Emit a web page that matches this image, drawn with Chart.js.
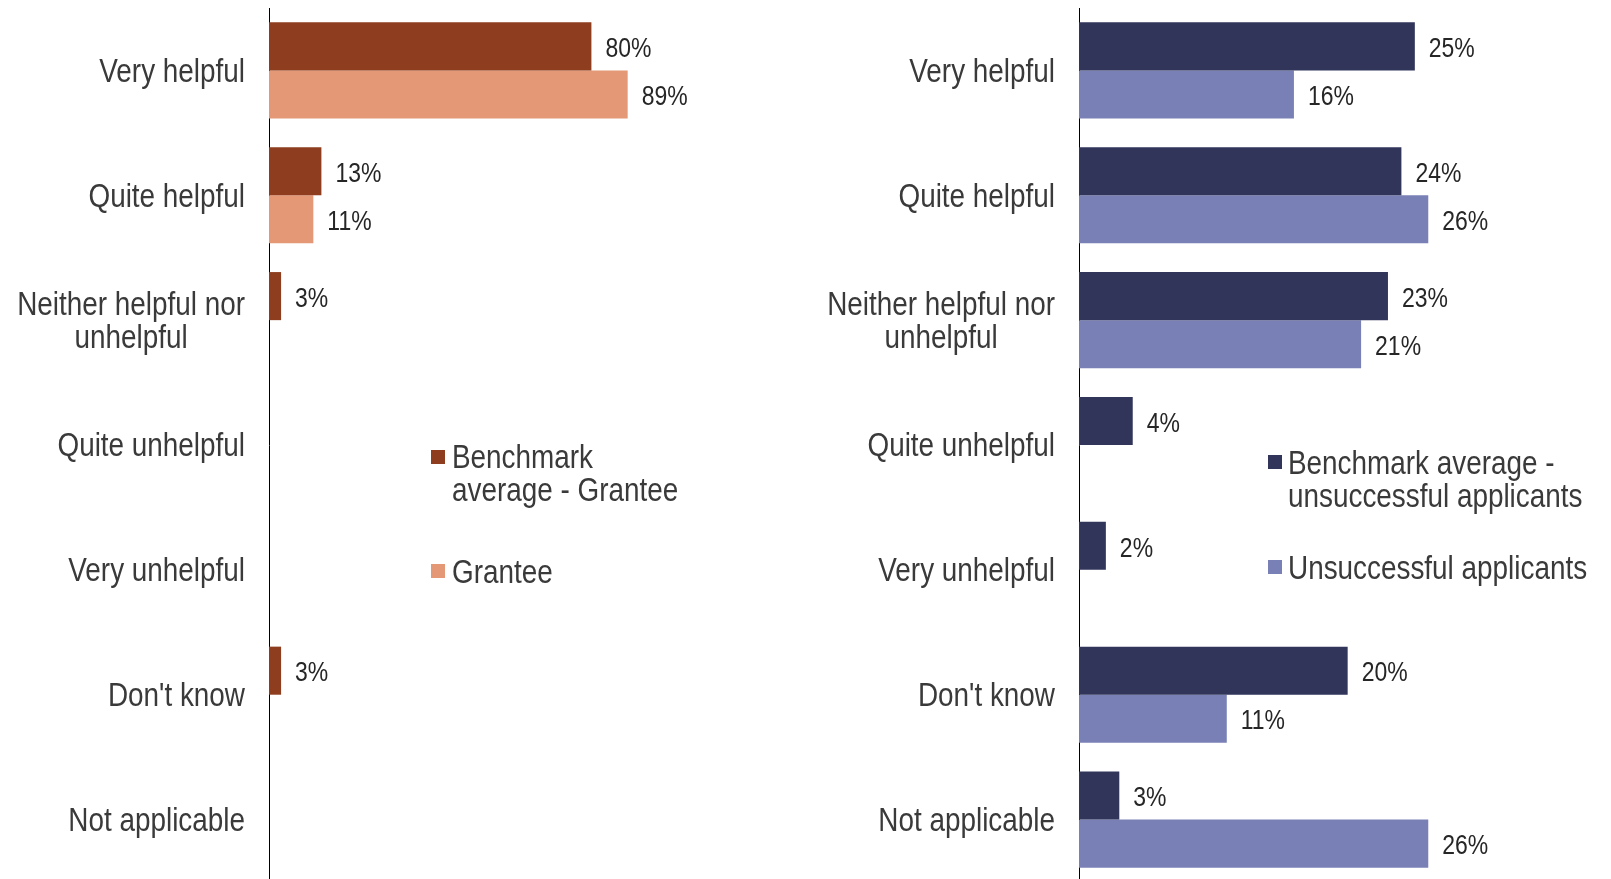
<!DOCTYPE html>
<html>
<head>
<meta charset="utf-8">
<title>Helpfulness</title>
<script src="https://cdn.jsdelivr.net/npm/chart.js@4.4.1/dist/chart.umd.min.js"></script>
<style>
  html, body { margin: 0; padding: 0; background: #fff; overflow: hidden; width: 1611px; height: 879px; }
  .wrap { position: absolute; top: 0; height: 884px; }
  #leftWrap { left: 0; width: 800px; }
  #rightWrap { left: 800px; width: 811px; }
  .leg { position: absolute; font-family: "Liberation Sans", Arial, sans-serif;
         font-size: 34px; line-height: 33px; color: #3a3a3a; white-space: nowrap;
         transform: scaleX(0.82); transform-origin: 0 0; }
  .sw { position: absolute; width: 14px; height: 14px; }
</style>
</head>
<body>
<div class="wrap" id="leftWrap"><canvas id="leftChart"></canvas></div>
<div class="wrap" id="rightWrap"><canvas id="rightChart"></canvas></div>

<!-- legends -->
<div class="sw" style="left:431px;top:450px;background:#8E3D1E"></div>
<div class="leg" style="left:452px;top:440px">Benchmark<br>average - Grantee</div>
<div class="sw" style="left:431px;top:564px;background:#E49876"></div>
<div class="leg" style="left:452px;top:555px">Grantee</div>

<div class="sw" style="left:1268px;top:455px;background:#31355A"></div>
<div class="leg" style="left:1288px;top:446px">Benchmark average -<br>unsuccessful applicants</div>
<div class="sw" style="left:1268px;top:560px;background:#7880B5"></div>
<div class="leg" style="left:1288px;top:551px">Unsuccessful applicants</div>

<script>
// ======================
// Data
// ======================
const categories = [
  "Very helpful",
  "Quite helpful",
  ["Neither helpful nor", "unhelpful"],
  "Quite unhelpful",
  "Very unhelpful",
  "Don't know",
  "Not applicable",
];

// left panel (grantees)
const benchmarkGrantee = [80, 13, 3, null, null, 3, null];
const grantee = [89, 11, null, null, null, null, null];

// right panel (unsuccessful applicants)
const benchmarkUnsuccessful = [25, 24, 23, 4, 2, 20, 3];
const unsuccessful = [16, 26, 21, null, null, 11, 26];

const FONT = '"Liberation Sans", Arial, sans-serif';
const SQUEEZE = 0.82; // reference text is a narrow face

function narrowText(ctx, text, x, y) {
  ctx.save();
  ctx.translate(x, y);
  ctx.scale(SQUEEZE, 1);
  ctx.fillText(text, 0, 0);
  ctx.restore();
}

// category labels drawn by hand so wrapped lines stay centred
const catLabels = {
  id: "catLabels",
  afterDraw(chart) {
    const ctx = chart.ctx;
    const y = chart.scales.y;
    ctx.save();
    ctx.font = "34px " + FONT;
    ctx.fillStyle = "#3a3a3a";
    ctx.textAlign = "center";
    ctx.textBaseline = "middle";
    chart.data.labels.forEach((lab, i) => {
      const lines = Array.isArray(lab) ? lab : [lab];
      const w = Math.max(...lines.map((l) => ctx.measureText(l).width)) * SQUEEZE;
      const cx = y.right - 24 - w / 2;
      const cy = y.getPixelForTick(i) + 2;
      lines.forEach((l, j) => narrowText(ctx, l, cx, cy + (j - (lines.length - 1) / 2) * 33));
    });
    ctx.restore();
  },
};

// value labels at bar ends
const valueLabels = {
  id: "valueLabels",
  afterDatasetsDraw(chart) {
    const ctx = chart.ctx;
    ctx.save();
    ctx.font = "28px " + FONT;
    ctx.fillStyle = "#262626";
    ctx.textAlign = "left";
    ctx.textBaseline = "middle";
    chart.data.datasets.forEach((ds, di) => {
      chart.getDatasetMeta(di).data.forEach((bar, i) => {
        const v = ds.data[i];
        if (v === null || v === undefined) return;
        narrowText(ctx, v + "%", bar.x + 14, bar.y + 3);
      });
    });
    ctx.restore();
  },
};

function makeChart(id, sets, max, yWidth, rightPad) {
  return new Chart(document.getElementById(id), {
    type: "bar",
    data: {
      labels: categories,
      datasets: sets.map((s) => ({
        label: s.label,
        data: s.data,
        backgroundColor: s.color,
        barPercentage: 1,
        categoryPercentage: 0.77,
      })),
    },
    options: {
      indexAxis: "y",
      responsive: true,
      maintainAspectRatio: false,
      animation: false,
      layout: { padding: { top: 8, bottom: 2, right: rightPad, left: 0 } },
      plugins: { legend: { display: false }, tooltip: { enabled: false } },
      scales: {
        x: { display: false, min: 0, max: max },
        y: {
          ticks: { display: false },
          grid: { display: true, drawOnChartArea: false, drawTicks: false },
          border: { display: true, color: "#000", width: 1 },
          afterFit: (scale) => { scale.width = yWidth; },
        },
      },
    },
    plugins: [catLabels, valueLabels],
  });
}

makeChart("leftChart", [
  { label: "Benchmark average - Grantee", data: benchmarkGrantee, color: "#8E3D1E" },
  { label: "Grantee", data: grantee, color: "#E49876" },
], 100, 269, 128);

makeChart("rightChart", [
  { label: "Benchmark average - unsuccessful applicants", data: benchmarkUnsuccessful, color: "#31355A" },
  { label: "Unsuccessful applicants", data: unsuccessful, color: "#7880B5" },
], 30, 279, 129);
</script>
</body>
</html>
